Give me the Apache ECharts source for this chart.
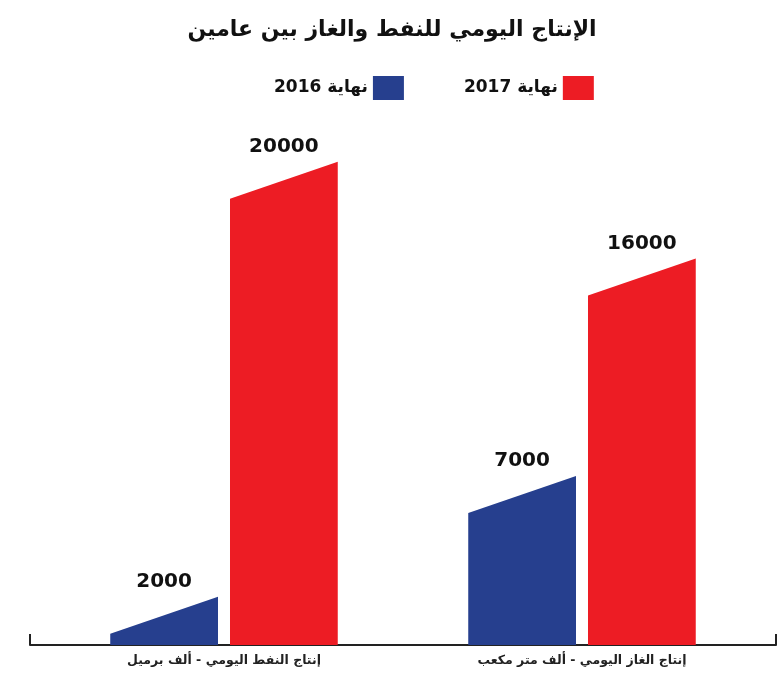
<!DOCTYPE html>
<html>
<head>
<meta charset="utf-8">
<script src="https://cdn.jsdelivr.net/npm/echarts@6/dist/echarts.min.js"></script>
<style>
	html, body { margin: 0; padding: 0; background: #fff; }
	#chart { width: 784px; height: 673px; direction: rtl; }
</style>
</head>
<body>
<div id="chart" dir="rtl"></div>
<script>
var titleText = 'الإنتاج اليومي للنفط والغاز بين عامين';
var categories = ['إنتاج النفط اليومي - ألف برميل', 'إنتاج الغاز اليومي - ألف متر مكعب'];
var seriesNames = ['نهاية 2016', 'نهاية 2017'];
var values2016 = [2000, 7000];
var values2017 = [20000, 16000];
var seriesColors = ['#263f8e', '#ed1c24'];

var fontAr = '"DejaVu Sans", sans-serif';

// bar with a slanted top: right edge at the value, left edge a bit lower
function slantBar(params, api) {
	var idx = api.value(0);
	var v = api.value(1);
	var base = api.coord([idx, 0]);
	var top = api.coord([idx, v]);
	var band = api.size([1, 0])[0];
	var w = band * 0.301;
	var gap = band * 0.0335;
	var x0 = params.seriesIndex === 0 ? base[0] - gap / 2 - w : base[0] + gap / 2;
	var x1 = x0 + w;
	var yLeft = Math.min(top[1] + 37, base[1]);
	return {
		type: 'group',
		children: [{
			type: 'polygon',
			shape: { points: [[x0, base[1]], [x0, yLeft], [x1, top[1]], [x1, base[1]]] },
			style: { fill: api.visual('color') }
		}, {
			type: 'text',
			style: {
				text: String(v),
				x: (x0 + x1) / 2,
				y: top[1] - 15,
				align: 'center',
				verticalAlign: 'middle',
				fontSize: 20,
				fontWeight: 'bold',
				fontFamily: fontAr,
				fill: '#111'
			}
		}]
	};
}

function toData(arr) {
	var out = [];
	for (var i = 0; i < arr.length; i++) out.push([i, arr[i]]);
	return out;
}

var myChart = echarts.init(document.getElementById('chart'));
var option = {
	animation: false,
	color: seriesColors,
	title: {
		text: titleText,
		left: 'center',
		top: 14,
		textStyle: { fontSize: 22, fontWeight: 'bold', fontFamily: fontAr, color: '#111' }
	},
	legend: {
		data: seriesNames,
		left: 269,
		top: 71,
		icon: 'rect',
		itemWidth: 31,
		itemHeight: 24,
		itemGap: 60,
		align: 'right',
		textStyle: { fontSize: 17, fontWeight: 'bold', fontFamily: fontAr, color: '#111' }
	},
	grid: [
		{ left: 45, right: 23, top: 41, bottom: 28 },
		{ left: 30, right: 8, top: 41, bottom: 28 }
	],
	xAxis: [{
		gridIndex: 0,
		type: 'category',
		data: categories,
		axisLine: { show: false },
		axisTick: { show: false },
		axisLabel: { margin: 9, fontSize: 12.5, fontWeight: 'bold', fontFamily: fontAr, color: '#222' }
	}, {
		gridIndex: 1,
		type: 'value',
		min: 0,
		max: 1,
		interval: 1,
		axisLine: { show: true, lineStyle: { color: '#222', width: 2 } },
		axisTick: { show: true, inside: true, length: 11, lineStyle: { color: '#222', width: 2 } },
		axisLabel: { show: false },
		splitLine: { show: false }
	}],
	yAxis: [{
		gridIndex: 0,
		type: 'value',
		min: 0,
		max: 25000,
		show: false
	}, {
		gridIndex: 1,
		type: 'value',
		min: 0,
		max: 1,
		show: false
	}],
	series: [{
		name: seriesNames[0],
		type: 'custom',
		xAxisIndex: 0,
		yAxisIndex: 0,
		itemStyle: { color: seriesColors[0] },
		renderItem: slantBar,
		data: toData(values2016),
		z: 1
	}, {
		name: seriesNames[1],
		type: 'custom',
		xAxisIndex: 0,
		yAxisIndex: 0,
		itemStyle: { color: seriesColors[1] },
		renderItem: slantBar,
		data: toData(values2017),
		z: 1
	}, {
		type: 'scatter',
		xAxisIndex: 1,
		yAxisIndex: 1,
		data: []
	}]
};
myChart.setOption(option);
</script>
</body>
</html>
